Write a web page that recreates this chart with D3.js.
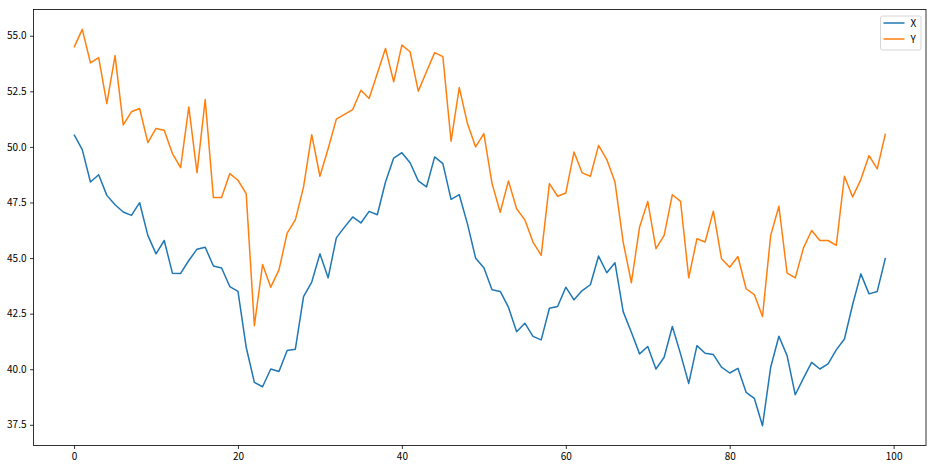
<meta charset="utf-8">
<script src="https://d3js.org/d3.v7.min.js"></script>

<style>
    body { margin: 0; background: #fff; }
    .tick text { font-family: "Noto Sans CJK SC", "Liberation Sans", sans-serif; font-size: 10px; fill: #000; }
    .legend text { font-family: "Noto Sans CJK SC", "Liberation Sans", sans-serif; font-size: 10px; }
</style>

<svg width="936" height="470"></svg>

<script>
    // values, index 0..99
    var seriesNames = ["X", "Y"];
    var seriesColors = ["#1f77b4", "#ff7f0e"];

    var xValues = [50.55, 49.88, 48.42, 48.75, 47.82, 47.40, 47.07, 46.92, 47.49, 46.02,
        45.19, 45.79, 44.32, 44.31, 44.89, 45.40, 45.49, 44.64, 44.55, 43.72,
        43.50, 40.99, 39.41, 39.21, 40.01, 39.90, 40.84, 40.90, 43.27, 43.92,
        45.19, 44.11, 45.91, 46.39, 46.85, 46.58, 47.10, 46.95, 48.42, 49.50,
        49.74, 49.29, 48.47, 48.20, 49.55, 49.25, 47.64, 47.85, 46.54, 44.99,
        44.56, 43.57, 43.50, 42.79, 41.69, 42.07, 41.48, 41.32, 42.74, 42.82,
        43.69, 43.12, 43.54, 43.80, 45.09, 44.34, 44.79, 42.59, 41.66, 40.69,
        41.02, 40.01, 40.54, 41.92, 40.69, 39.36, 41.06, 40.72, 40.66, 40.09,
        39.83, 40.04, 38.96, 38.69, 37.46, 40.09, 41.48, 40.61, 38.85, 39.60,
        40.31, 40.01, 40.24, 40.87, 41.36, 42.91, 44.29, 43.39, 43.50, 45.01];

    var yValues = [54.48, 55.29, 53.78, 54.02, 51.95, 54.11, 50.99, 51.58, 51.73, 50.19,
        50.83, 50.75, 49.70, 49.07, 51.80, 48.84, 52.13, 47.72, 47.72, 48.80,
        48.50, 47.90, 41.96, 44.71, 43.69, 44.47, 46.12, 46.72, 48.20, 50.55,
        48.68, 49.92, 51.25, 51.46, 51.68, 52.55, 52.18, 53.30, 54.43, 52.93,
        54.58, 54.28, 52.51, 53.38, 54.24, 54.06, 50.26, 52.67, 51.05, 50.00,
        50.60, 48.35, 47.06, 48.47, 47.22, 46.72, 45.72, 45.12, 48.35, 47.78,
        47.93, 49.77, 48.83, 48.68, 50.07, 49.43, 48.42, 45.72, 43.89, 46.39,
        47.55, 45.42, 46.02, 47.85, 47.55, 44.11, 45.87, 45.72, 47.11, 44.97,
        44.59, 45.07, 43.62, 43.36, 42.37, 46.02, 47.33, 44.32, 44.11, 45.46,
        46.24, 45.79, 45.79, 45.57, 48.68, 47.75, 48.53, 49.61, 49.01, 50.60];

    var xTicks = [0, 20, 40, 60, 80, 100];
    var yTicks = [37.5, 40.0, 42.5, 45.0, 47.5, 50.0, 52.5, 55.0];

    var svg = d3.select("svg");
    var margin = {left: 33.5, right: 10, top: 9.5, bottom: 24.5};
    var width = 936 - margin.left - margin.right,
        height = 470 - margin.top - margin.bottom;

    var series = [xValues, yValues];
    var n = xValues.length;

    // matplotlib style 5% padding
    var xpad = (n - 1) * 0.05;
    var allVals = xValues.concat(yValues);
    var lo = d3.min(allVals), hi = d3.max(allVals);
    var ypad = (hi - lo) * 0.05;

    var x = d3.scaleLinear().domain([-xpad, n - 1 + xpad]).range([0, width]);
    var y = d3.scaleLinear().domain([lo - ypad, hi + ypad]).range([height, 0]);

    var g = svg.append("g").attr("transform", "translate(" + margin.left + "," + margin.top + ")");

    var line = d3.line()
        .x(function(d, i) { return x(i); })
        .y(function(d) { return y(d); });

    g.selectAll("path.series")
        .data(series)
        .enter().append("path")
        .attr("class", "series")
        .attr("fill", "none")
        .attr("stroke", function(d, i) { return seriesColors[i]; })
        .attr("stroke-width", 1.5)
        .attr("stroke-linejoin", "round")
        .attr("d", line);

    // frame
    g.append("rect")
        .attr("width", width)
        .attr("height", height)
        .attr("fill", "none")
        .attr("stroke", "#000")
        .attr("stroke-width", 0.8);

    var xAxis = g.append("g")
        .attr("transform", "translate(0," + height + ")")
        .call(d3.axisBottom(x).tickValues(xTicks).tickSize(3.5).tickPadding(3.5).tickFormat(d3.format("d")));
    var yAxis = g.append("g")
        .call(d3.axisLeft(y).tickValues(yTicks).tickSize(3.5).tickPadding(3.5).tickFormat(d3.format(".1f")));
    [xAxis, yAxis].forEach(function(a) {
        a.select(".domain").remove();
        a.selectAll(".tick line").attr("stroke", "#000").attr("stroke-width", 0.8);
    });

    // legend
    var lg = g.append("g").attr("class", "legend")
        .attr("transform", "translate(" + (width - 45.5) + ",6.5)");
    lg.append("rect")
        .attr("width", 40.5)
        .attr("height", 34)
        .attr("rx", 2)
        .attr("fill", "#fff")
        .attr("fill-opacity", 0.8)
        .attr("stroke", "#ccc")
        .attr("stroke-width", 0.8);
    var item = lg.selectAll("g.item")
        .data(seriesNames)
        .enter().append("g")
        .attr("class", "item")
        .attr("transform", function(d, i) { return "translate(0," + (7 + i * 16) + ")"; });
    item.append("line")
        .attr("x1", 3).attr("x2", 24)
        .attr("stroke", function(d, i) { return seriesColors[i]; })
        .attr("stroke-width", 1.5);
    item.append("text")
        .attr("x", 30)
        .attr("y", 3.5)
        .attr("fill", "#000")
        .text(function(d) { return d; });
</script>
